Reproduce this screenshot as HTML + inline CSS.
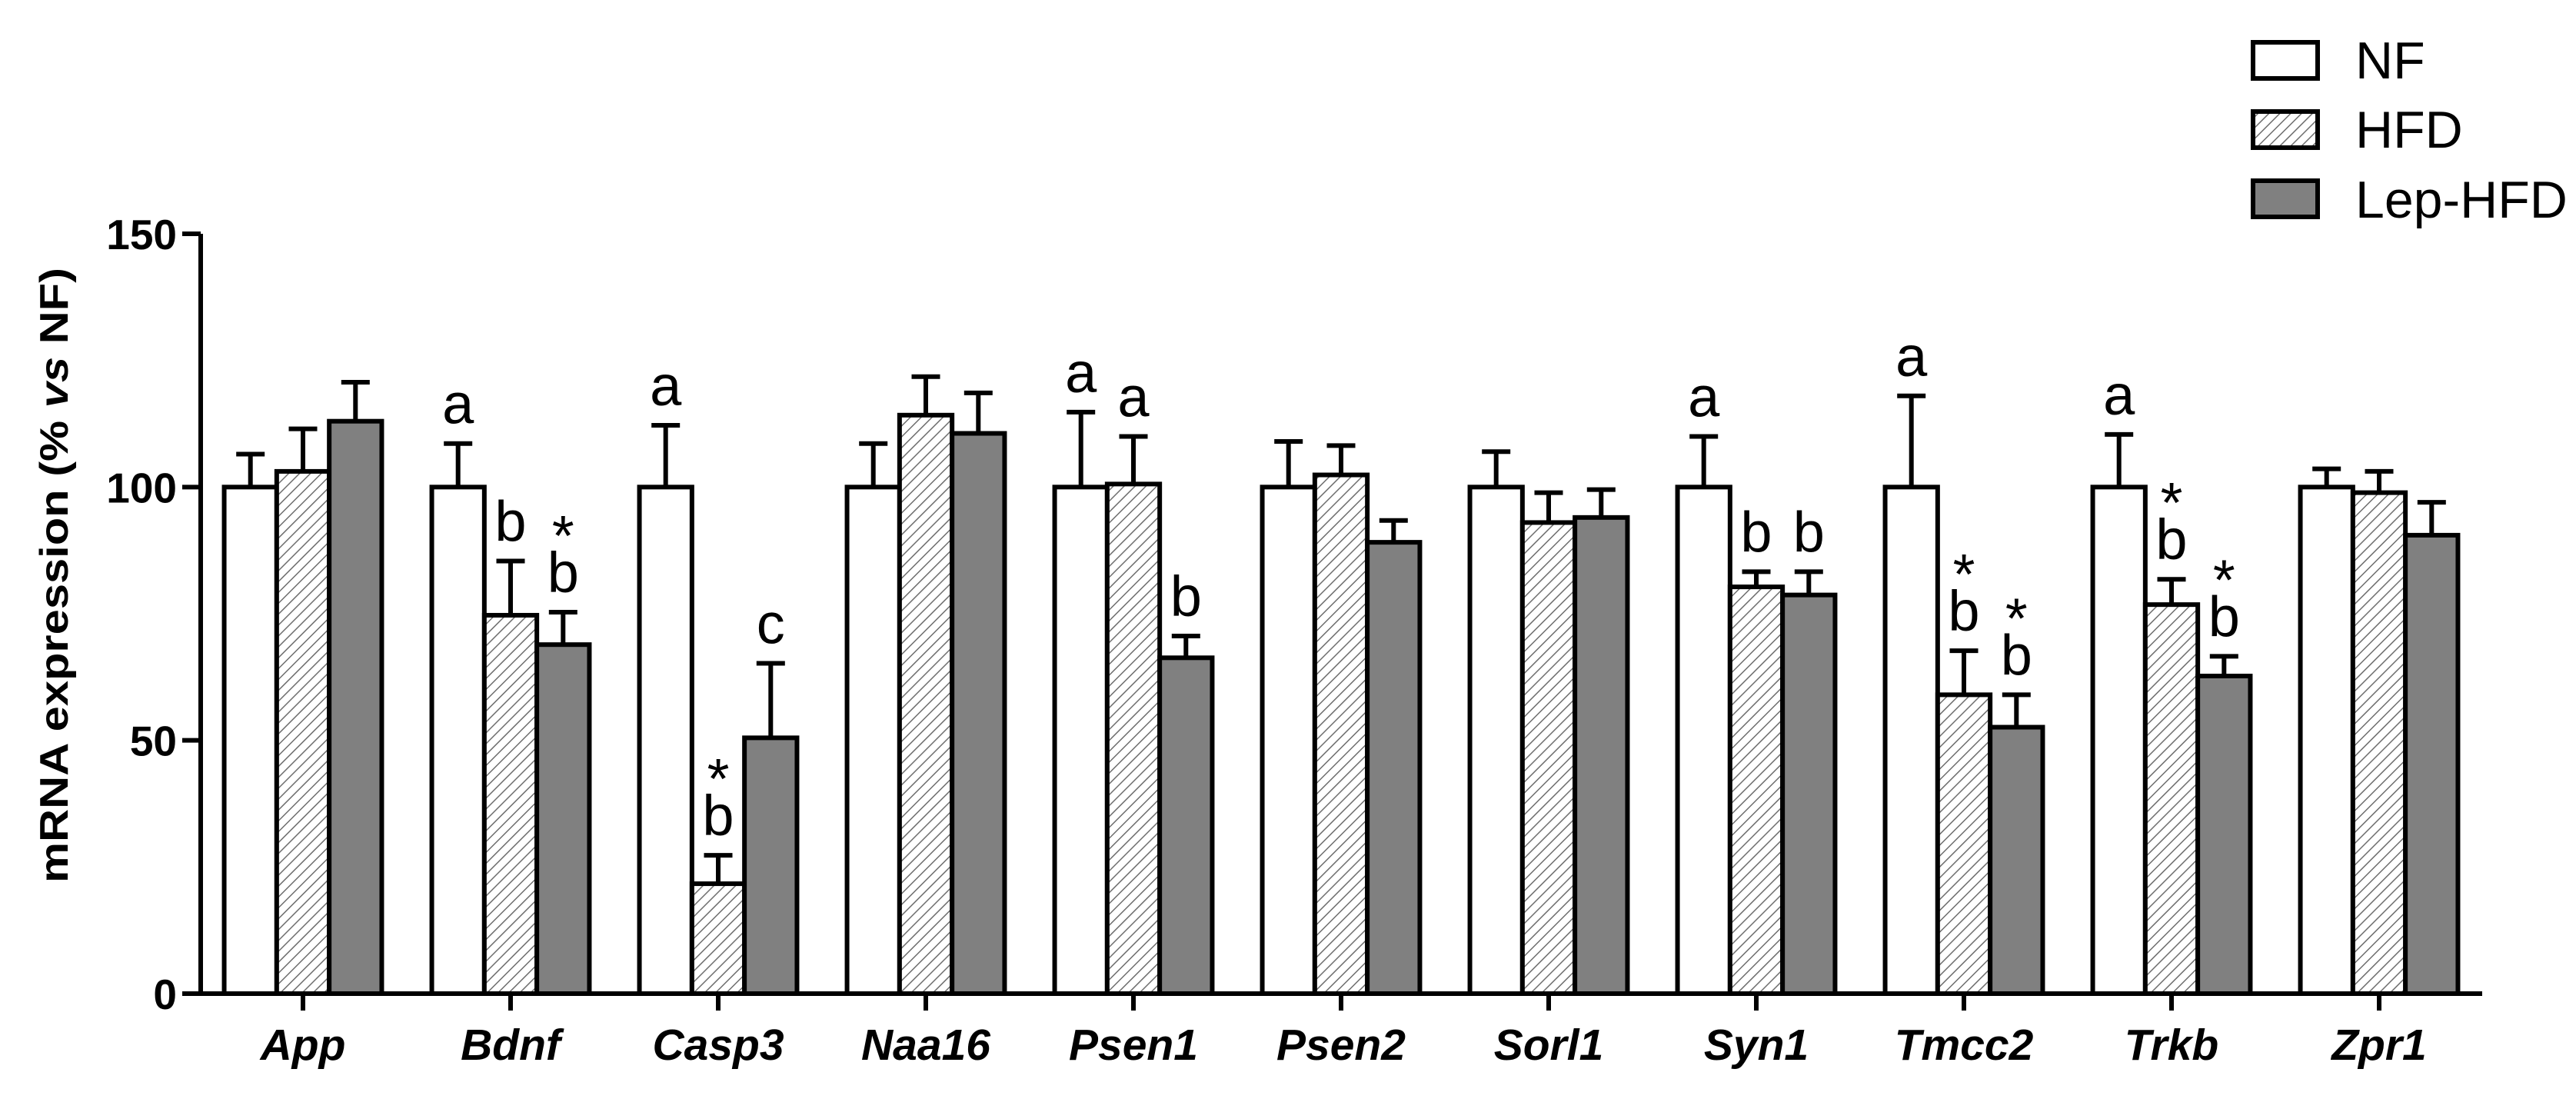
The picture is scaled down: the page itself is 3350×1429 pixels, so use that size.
<!DOCTYPE html>
<html><head><meta charset="utf-8"><style>
html,body{margin:0;padding:0;background:#fff;}
svg{display:block;}
</style></head><body>
<svg id="chart" width="3350" height="1429" viewBox="0 0 3350 1429" xmlns="http://www.w3.org/2000/svg">
<defs>
<pattern id="hatch" patternUnits="userSpaceOnUse" width="10" height="10" patternTransform="rotate(45)">
<rect width="10" height="10" fill="#fff"/>
<line x1="0" y1="0" x2="0" y2="10" stroke="#6e6e6e" stroke-width="3"/>
</pattern>
</defs>
<g id="legend">
<g>
<rect x="2930" y="55" width="84" height="47" fill="#fff" stroke="#000" stroke-width="6"/>
<text x="3063" y="102" font-family="Liberation Sans, sans-serif" font-size="68">NF</text></g>
<g>
<rect x="2930" y="145" width="84" height="47" fill="url(#hatch)" stroke="#000" stroke-width="6"/>
<text x="3063" y="192" font-family="Liberation Sans, sans-serif" font-size="68">HFD</text></g>
<g>
<rect x="2930" y="235" width="84" height="47" fill="#808080" stroke="#000" stroke-width="6"/>
<text x="3063" y="283" font-family="Liberation Sans, sans-serif" font-size="68">Lep-HFD</text></g>
</g>
<text transform="translate(88,748) rotate(-90)" text-anchor="middle" font-family="Liberation Sans, sans-serif" font-weight="bold" font-size="52" textLength="800" lengthAdjust="spacingAndGlyphs">mRNA expression (% <tspan font-style="italic">vs</tspan> NF)</text>
<g id="plot"></g>
</svg>
<script>
const categories = ["App","Bdnf","Casp3","Naa16","Psen1","Psen2","Sorl1","Syn1","Tmcc2","Trkb","Zpr1"];
const seriesNames = ["NF","HFD","Lep-HFD"];
const nfValues = [100,100,100,100,100,100,100,100,100,100,100];
const nfErrTop = [106.5,108.6,112.2,108.6,114.8,109,107,110,118,110.4,103.6];
const hfdValues = [103.1,74.7,21.7,114.2,100.6,102.4,93,80.3,59,76.8,98.9];
const hfdErrTop = [111.5,85.4,27.3,121.8,110,108.2,98.9,83.3,67.7,81.8,103.1];
const lepValues = [113,68.9,50.5,110.6,66.3,89.1,94,78.7,52.6,62.7,90.5];
const lepErrTop = [120.7,75.3,65.2,118.6,70.6,93.4,99.5,83.3,59,66.6,97];
const yTicks = [0,50,100,150];
// annotations: [categoryIndex, seriesIndex, labels bottom-to-top]
const annotations = [
 [1,0,["a"]],[1,1,["b"]],[1,2,["b","*"]],
 [2,0,["a"]],[2,1,["b","*"]],[2,2,["c"]],
 [4,0,["a"]],[4,1,["a"]],[4,2,["b"]],
 [7,0,["a"]],[7,1,["b"]],[7,2,["b"]],
 [8,0,["a"]],[8,1,["b","*"]],[8,2,["b","*"]],
 [9,0,["a"]],[9,1,["b","*"]],[9,2,["b","*"]]
];

const NS="http://www.w3.org/2000/svg";
const plot=document.getElementById('plot');
const Y0=1292, Y150=304, AX=261, AXEND=3228, C0=394, STEP=270, BW=68.3;
function y(v){return Y0-(v/150)*(Y0-Y150);}
function cx(i){return C0+i*STEP;}
function barX(i,s){return cx(i)-1.5*BW+s*BW;}
function mk(tag,attrs,parent){const e=document.createElementNS(NS,tag);for(const k in attrs)e.setAttribute(k,attrs[k]);(parent||plot).appendChild(e);return e;}

const vals=[nfValues,hfdValues,lepValues];
const errs=[nfErrTop,hfdErrTop,lepErrTop];
const fills=["#fff","url(#hatch)","#808080"];
const keys=["nf","hfd","lep-hfd"];

categories.forEach((c,i)=>{
  for(let s=0;s<3;s++){
    const x=barX(i,s), v=vals[s][i], et=errs[s][i], mid=x+BW/2;
    const eb=mk('path',{d:`M${mid} ${y(v)} V${y(et)} M${mid-18.5} ${y(et)} H${mid+18.5}`,stroke:'#000','stroke-width':6,fill:'none'});
    
    
    const r=mk('rect',{x:x,y:y(v),width:BW,height:Y0-y(v),fill:fills[s],stroke:'#000','stroke-width':6});
    
    
  }
  const t=mk('line',{x1:cx(i),y1:Y0,x2:cx(i),y2:Y0+22,stroke:'#000','stroke-width':6});
  
  
  const lb=mk('text',{x:cx(i),y:1378,'text-anchor':'middle','font-family':'Liberation Sans, sans-serif','font-weight':'bold','font-style':'italic','font-size':57});
  lb.textContent=c;
  
  
});

annotations.forEach(a=>{
  const [i,s,labels]=a;
  const mid=barX(i,s)+BW/2;
  let base=y(errs[s][i])-26;
  labels.forEach(l=>{
    const t=mk('text',{x:mid,y:base,'text-anchor':'middle','font-family':'Liberation Sans, sans-serif','font-size':74});
    t.textContent=l;
    
    
    base-= (l==="*")?0:48;
  });
});

const ax=mk('path',{d:`M${AX} ${Y150} V${Y0} H${AXEND}`,stroke:'#000','stroke-width':6,fill:'none'});


yTicks.forEach(v=>{
  const tk=mk('line',{x1:AX-24,y1:y(v),x2:AX,y2:y(v),stroke:'#000','stroke-width':6});
  
  
  const tl=mk('text',{x:230,y:y(v)+20,'text-anchor':'end','font-family':'Liberation Sans, sans-serif','font-weight':'bold','font-size':55});
  tl.textContent=v;
  
  
});
</script>
</body></html>
